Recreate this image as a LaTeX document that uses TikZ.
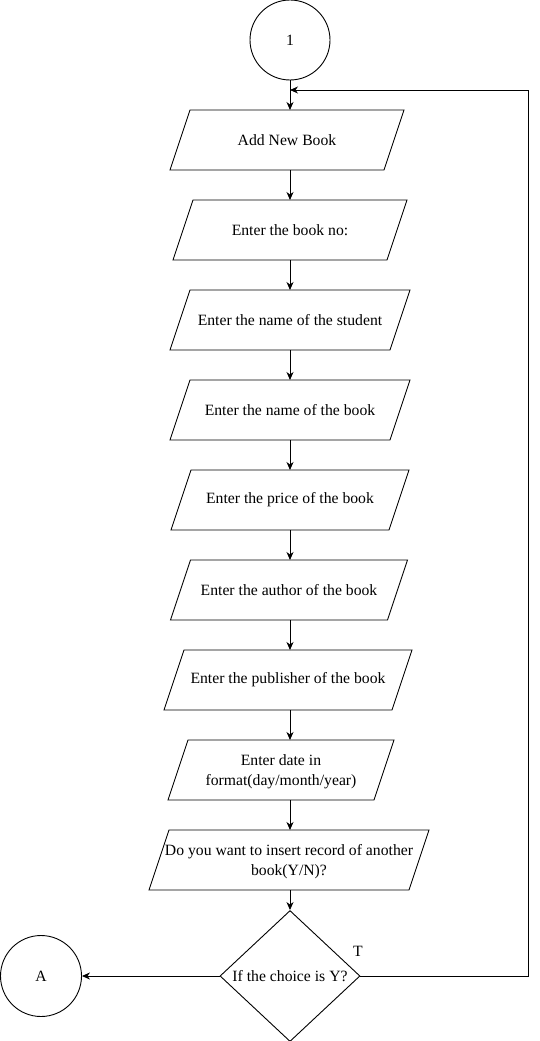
\documentclass[tikz,border=0pt]{standalone}
\usepackage{fontspec}
\setmainfont{Liberation Serif}
\usetikzlibrary{shapes.geometric,arrows.meta}
\newcommand\iobox[5]{%
  \node[io, minimum width=#4pt+20pt] (#1) at (#2,#3) {#5};
  \draw ([xshift=20pt]#1.north west) -- (#1.north east) -- ([xshift=-20pt]#1.south east) -- (#1.south west) -- cycle;}
\begin{document}
\begin{tikzpicture}[x=1pt,y=-1pt,
  font=\fontsize{15.7}{20.5}\selectfont,
  line width=0.9pt,
  io/.style={rectangle, minimum height=60pt, inner sep=0pt, outer sep=0pt, align=center},
  conn/.style={circle, draw, inner sep=0pt},
  arr/.style={-{Stealth[length=8pt,width=7pt,inset=2.5pt]}}]
\useasboundingbox (0,0) rectangle (540,1041);
\coordinate (axis) at (290,0);
\node[conn, minimum size=80pt] (c1) at (290,40) {1};
\iobox{b1}{287}{140}{214}{Add New Book}
\iobox{b2}{290}{230}{214}{Enter the book no:}
\iobox{b3}{290}{320}{220}{Enter the name of the student}
\iobox{b4}{290}{410}{220}{Enter the name of the book}
\iobox{b5}{290}{500}{218}{Enter the price of the book}
\iobox{b6}{289}{590}{217}{Enter the author of the book}
\iobox{b7}{288}{680}{228}{Enter the publisher of the book}
\iobox{b8}{281}{770}{206}{\rule{0pt}{14pt}Enter date in\\format(day/month/year)}
\iobox{b9}{289}{860}{260}{\rule{0pt}{14pt}Do you want to insert record of another\\book(Y/N)?}
\node[diamond, draw, inner sep=0pt, aspect=1.07, minimum width=140pt, minimum height=131pt] (d) at (290,976) {If the choice is Y?};
\node[conn, minimum size=81pt] (A) at (41,976) {A};
\node (T) at (358,951) {T};
\coordinate (j) at (290,90);
\coordinate (r) at (528,90);
\draw[arr] (c1.south -| axis) -- (b1.north -| axis);
\draw[arr] (b1.south -| axis) -- (b2.north -| axis);
\draw[arr] (b2.south -| axis) -- (b3.north -| axis);
\draw[arr] (b3.south -| axis) -- (b4.north -| axis);
\draw[arr] (b4.south -| axis) -- (b5.north -| axis);
\draw[arr] (b5.south -| axis) -- (b6.north -| axis);
\draw[arr] (b6.south -| axis) -- (b7.north -| axis);
\draw[arr] (b7.south -| axis) -- (b8.north -| axis);
\draw[arr] (b8.south -| axis) -- (b9.north -| axis);
\draw[arr] (b9.south -| axis) -- (d.north);
\draw[arr] (d.west) -- (A.east);
\draw[arr] (d.east) -| (r) -- (j);
\end{tikzpicture}
\end{document}
